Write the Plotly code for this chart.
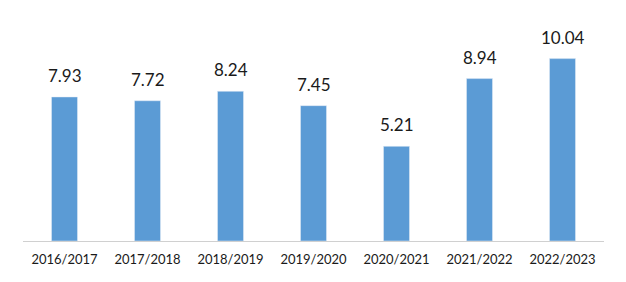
import plotly.graph_objects as go

categories = ["2016/2017", "2017/2018", "2018/2019", "2019/2020", "2020/2021", "2021/2022", "2022/2023"]
values = [7.93, 7.72, 8.24, 7.45, 5.21, 8.94, 10.04]
labels = ["7.93", "7.72", "8.24", "7.45", "5.21", "8.94", "10.04"]

fig = go.Figure(go.Bar(x=categories, y=values, marker_color="#5B9BD5", hoverinfo="skip"))

for c, v, t in zip(categories, values, labels):
    fig.add_annotation(x=c, y=v, text=t, showarrow=False, yanchor="bottom", yshift=9,
                       font=dict(family="Lato", size=17, color="#1a1a1a"))

fig.update_layout(
    width=626, height=282,
    margin=dict(l=23, r=22, t=23, b=41),
    paper_bgcolor="white", plot_bgcolor="white",
    bargap=0.687,
    showlegend=False,
    xaxis=dict(showline=True, linecolor="#d0d0d0", linewidth=1, ticks="outside", ticklen=6,
               tickcolor="rgba(0,0,0,0)", tickfont=dict(family="Lato", size=13, color="#1a1a1a"),
               fixedrange=True),
    yaxis=dict(range=[0, 12], visible=False, showgrid=False, fixedrange=True),
)
fig.write_html("out.html", config={"displayModeBar": False})
